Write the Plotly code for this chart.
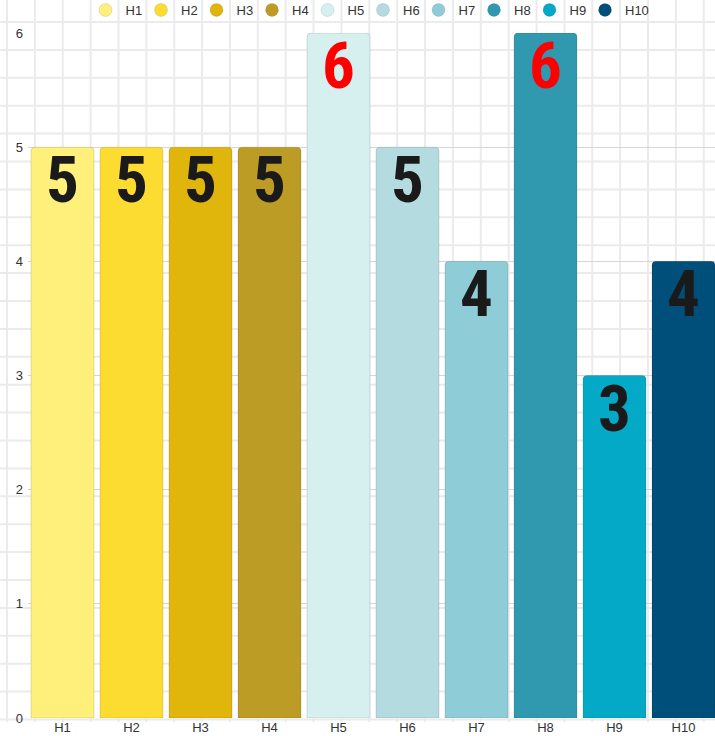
import plotly.graph_objects as go

categories = ["H1", "H2", "H3", "H4", "H5", "H6", "H7", "H8", "H9", "H10"]
values = [5, 5, 5, 5, 6, 5, 4, 6, 3, 4]
colors = ["#FEF07A", "#FCDC30", "#E0B60C", "#BD9C26", "#D6F0F0",
          "#B3DBE0", "#8ECCD8", "#3199AF", "#04A9C7", "#004F7A"]
label_colors = ["#FF0000" if v == max(values) else "#1A1A1A" for v in values]
y_ticks = [0, 1, 2, 3, 4, 5, 6]

W, H = 715, 736
ML, MR, MT, MB = 28, 0, 33, 18
PW, PH = W - ML - MR, H - MT - MB
BAND = 69.0

def px_x(px):
    return (px - ML) / PW

def px_y(py):
    return (H - MB - py) / PH

fig = go.Figure()

fig.add_trace(go.Bar(
    x=categories, y=values,
    marker=dict(color=colors, cornerradius=4,
                line=dict(width=1, color="rgba(0,0,0,0.12)")),
    showlegend=False, hoverinfo="x+y",
))

for name, c in zip(categories, colors):
    fig.add_trace(go.Scatter(
        x=[None], y=[None], mode="markers", name=name,
        marker=dict(symbol="circle", size=13, color=c,
                    line=dict(width=1, color="rgba(0,0,0,0.1)")),
    ))
# invisible spacer entry so the last legend label is not clipped
fig.add_trace(go.Scatter(x=[None], y=[None], mode="markers", name=" ",
                         marker=dict(color="rgba(0,0,0,0)", size=1),
                         hoverinfo="skip"))

# value labels at the top inside each bar
annos = []
for cat, v, tc in zip(categories, values, label_colors):
    annos.append(dict(x=cat, y=v, xref="x", yref="y", text=str(v),
                      showarrow=False, xanchor="center", yanchor="top", yshift=7,
                      font=dict(family="Roboto Condensed, Open Sans Condensed, sans-serif",
                                size=65, color=tc, weight="bold")))

# graph-paper background
shapes = []
gx = 7.0
while gx < W:
    shapes.append(dict(type="line", xref="paper", yref="paper",
                       x0=px_x(gx), x1=px_x(gx), y0=px_y(722), y1=px_y(-2),
                       line=dict(color="#EBEBEB", width=2), layer="below"))
    gx += 27.87
gy = 22.0 - 27.9
while gy < 721:
    shapes.append(dict(type="line", xref="paper", yref="paper",
                       x0=px_x(-2), x1=px_x(W + 2), y0=px_y(gy), y1=px_y(gy),
                       line=dict(color="#EBEBEB", width=2), layer="below"))
    gy += 27.9

fig.update_layout(
    width=W, height=H,
    margin=dict(l=ML, r=MR, t=MT, b=MB, pad=0, autoexpand=False),
    paper_bgcolor="white", plot_bgcolor="rgba(0,0,0,0)",
    bargap=6 / BAND,
    shapes=shapes,
    annotations=annos,
    font=dict(family="Liberation Sans, Arial, sans-serif", size=13, color="#333333"),
    legend=dict(orientation="h", x=px_x(391), xanchor="center",
                y=px_y(-5), yanchor="top",
                font=dict(size=13, color="#333333"), bgcolor="rgba(0,0,0,0)",
                entrywidth=10.5, itemwidth=30),
    xaxis=dict(range=[-0.5, -0.5 + PW / BAND], showgrid=False, zeroline=False,
               showline=False, ticks="", tickfont=dict(size=13, color="#333333")),
    yaxis=dict(range=[0, 6], tickvals=y_ticks, showgrid=True, gridcolor="#D6D6D6",
               gridwidth=1, zeroline=False, showline=False, ticks="",
               ticklabelstandoff=4, tickfont=dict(size=13, color="#333333")),
)

fig.write_html("out.html", config={"displayModeBar": False},
               post_script="document.body.style.margin='0';")
